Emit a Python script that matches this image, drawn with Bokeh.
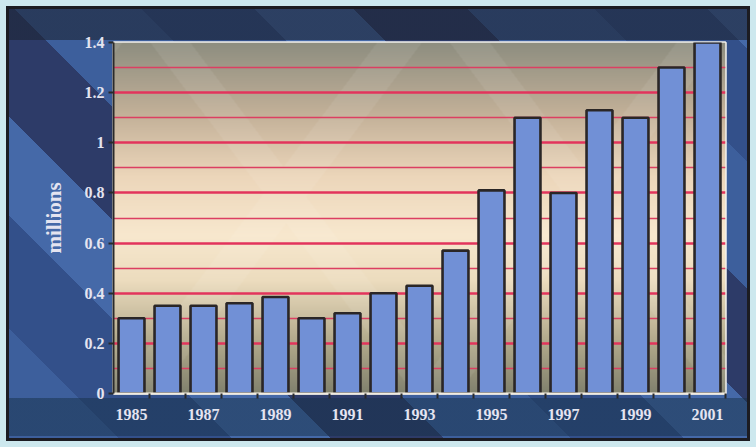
import numpy as np
from bokeh.plotting import figure
from bokeh.models import FixedTicker, CustomJSTickFormatter, ColumnDataSource
from bokeh.embed import file_html
from bokeh.resources import INLINE

# Yearly totals, in millions
years = [1985, 1986, 1987, 1988, 1989, 1990, 1991, 1992, 1993,
         1994, 1995, 1996, 1997, 1998, 1999, 2000, 2001]
values = [0.30, 0.35, 0.35, 0.36, 0.385, 0.30, 0.32, 0.40, 0.43,
          0.57, 0.81, 1.10, 0.80, 1.13, 1.10, 1.30, 1.40]
labelled_years = [1985, 1987, 1989, 1991, 1993, 1995, 1997, 1999, 2001]
y_ticks = [0, 0.2, 0.4, 0.6, 0.8, 1.0, 1.2, 1.4]
y_minor = [0.1, 0.3, 0.5, 0.7, 0.9, 1.1, 1.3]

W, H = 756, 447
LEFT, RIGHT, TOP, BOTTOM = 113, 31, 42, 54

x0, x1 = years[0] - 0.5, years[-1] + 0.5
y0, y1 = 0.0, 1.4

p = figure(width=W, height=H, x_range=(x0, x1), y_range=(y0, y1),
           output_backend="svg", toolbar_location=None,
           min_border_left=LEFT, min_border_right=RIGHT,
           min_border_top=TOP, min_border_bottom=BOTTOM)

# Page backdrop: blue panel with diagonal bands, darker top/bottom strips, framed edge
p.border_fill_alpha = 0
p.background_fill_alpha = 0
p.styles = {
    "background":
        "linear-gradient(to bottom, rgba(28,36,52,0.6) 0px, rgba(28,36,52,0.6) 40px, transparent 40px, transparent 398px, rgba(22,48,72,0.5) 398px, rgba(22,48,72,0.5) 436px, transparent 436px),"
        "repeating-linear-gradient(45deg, #3d5f9c 0px, #3d5f9c 90px, #33508a 90px, #33508a 170px, #4569a8 170px, #4569a8 240px, #2d3b68 240px, #2d3b68 320px)",
    "box-shadow": "inset 0 0 0 6px #cde8ee, inset 0 0 0 9px #1c1c22",
}

# Plot area backdrop: warm vertical gradient with faint diagonal light bands
nh, nw = 351, 612
fy = np.linspace(0, 1, nh)[:, None]
fx = np.linspace(0, 1, nw)[None, :]
stops = np.array([0.0, 0.14, 0.32, 0.45, 0.62, 0.80, 1.0])
cols = np.array([
    [130, 130, 110],
    [176, 168, 138],
    [236, 220, 190],
    [248, 232, 206],
    [236, 214, 186],
    [194, 176, 152],
    [142, 142, 128],
], dtype=float)
rgb = np.stack([np.interp(fy[:, 0], stops, cols[:, k]) for k in range(3)], axis=1)
img = np.repeat(rgb[:, None, :], nw, axis=1)
px = fx * nw
py = fy * nh
band1 = ((px - py * 0.75) % 300) < 45
band2 = ((px + py * 0.75) % 300) < 40
light = (band1 | band2).astype(float) * 0.07
img = img + (255 - img) * light[..., None]
rgba = np.empty((nh, nw), dtype=np.uint32)
view = rgba.view(dtype=np.uint8).reshape((nh, nw, 4))
view[..., :3] = np.clip(img, 0, 255).astype(np.uint8)
view[..., 3] = 255
p.image_rgba(image=[rgba], x=x0, y=y0, dw=x1 - x0, dh=y1 - y0, level="image")

# Red horizontal rules
p.xgrid.grid_line_color = None
p.ygrid.grid_line_color = "#e2345c"
p.ygrid.grid_line_width = 2.5
p.ygrid.minor_grid_line_color = "#dc3f62"
p.ygrid.minor_grid_line_width = 1.6
p.ygrid.level = "underlay"

src = ColumnDataSource(dict(year=years, value=values))
p.vbar(x="year", top="value", width=0.72, bottom=0, source=src,
       fill_color="#7190d6", line_color="#2a2626", line_width=2.6)

p.outline_line_color = "#f4f2ee"
p.outline_line_width = 2.5

font = "Liberation Serif"
lab_col = "#e4e4f0"

p.yaxis.ticker = FixedTicker(ticks=y_ticks, minor_ticks=y_minor)
p.yaxis.formatter = CustomJSTickFormatter(
    code="return tick.toFixed(1).replace(/\\.0$/, '');")
p.yaxis.axis_line_color = "#2a2a2a"
p.yaxis.axis_line_width = 2
p.yaxis.major_tick_line_color = "#2a2a2a"
p.yaxis.major_tick_line_width = 2
p.yaxis.major_tick_out = 5
p.yaxis.major_tick_in = 0
p.yaxis.minor_tick_line_color = None
p.yaxis.major_label_text_font = font
p.yaxis.major_label_text_font_style = "bold"
p.yaxis.major_label_text_font_size = "16px"
p.yaxis.major_label_text_color = lab_col
p.yaxis.major_label_standoff = 4
p.yaxis.axis_label = "millions"
p.yaxis.axis_label_text_font = font
p.yaxis.axis_label_text_font_style = "bold"
p.yaxis.axis_label_text_font_size = "21px"
p.yaxis.axis_label_text_color = lab_col
p.yaxis.axis_label_standoff = 16

p.xaxis.ticker = FixedTicker(ticks=labelled_years,
                             minor_ticks=[y + 0.5 for y in years])
p.xaxis.axis_line_color = "#f2ece0"
p.xaxis.axis_line_width = 2
p.xaxis.major_tick_line_color = None
p.xaxis.minor_tick_line_color = "#2a2a2a"
p.xaxis.minor_tick_line_width = 2
p.xaxis.minor_tick_out = 5
p.xaxis.minor_tick_in = 0
p.xaxis.major_label_text_font = font
p.xaxis.major_label_text_font_style = "bold"
p.xaxis.major_label_text_font_size = "16px"
p.xaxis.major_label_text_color = lab_col
p.xaxis.major_label_standoff = 9

open("out.html", "w").write(file_html(p, INLINE))
